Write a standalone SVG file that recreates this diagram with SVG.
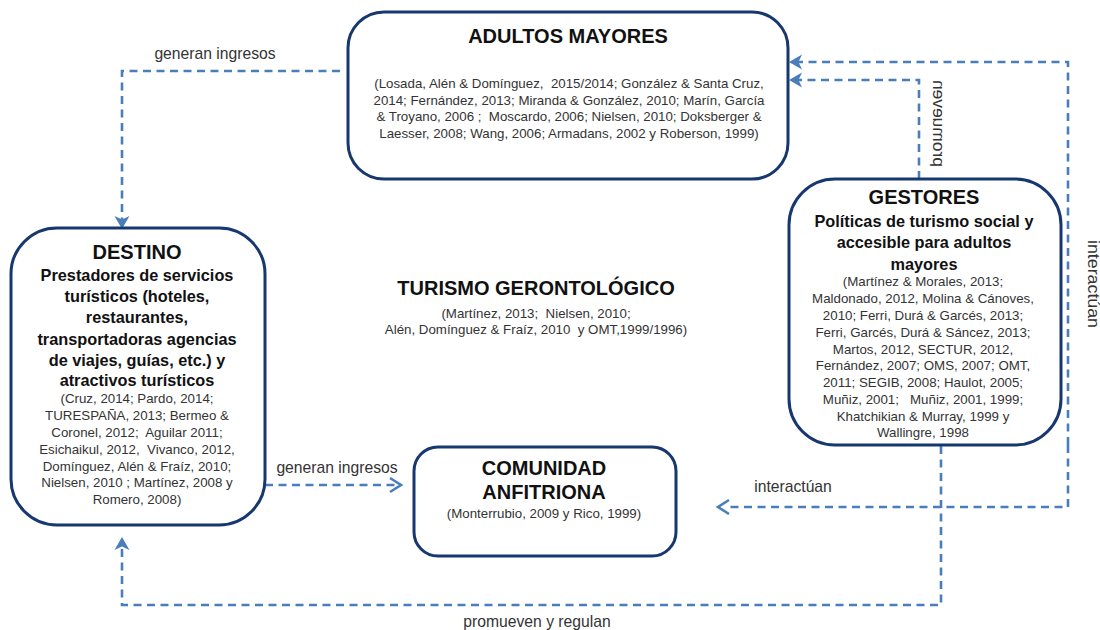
<svg xmlns="http://www.w3.org/2000/svg" width="1100" height="630" viewBox="0 0 1100 630">
<defs>
<path id="stealth" class="fill" d="M0 0L13 -7.5L9.5 0L13 7.5Z"/>
</defs>
<style>
.box{fill:#fff;stroke:#17386f;stroke-width:3}
.con{fill:none;stroke:#4a7ebb;stroke-width:2.6;stroke-dasharray:8 5.5}
.head{fill:none;stroke:#4a7ebb;stroke-width:2.6}
.fill{fill:#4a7ebb}
text{font-family:"Liberation Sans",Arial,sans-serif;text-anchor:middle;fill:#111;white-space:pre}
.t{font-weight:bold;font-size:20px}
.s{font-weight:bold;font-size:16.3px}
.r{font-size:13.3px;fill:#333}
.l{font-size:15.7px;fill:#333}
</style>
<rect width="1100" height="630" fill="#fff"/>
<g id="connectors">
<path class="con" d="M340 71H122V222"/>
<use href="#stealth" transform="translate(122 229) rotate(-90)"/>
<path class="con" d="M265 485H396"/>
<path class="head" d="M390 478l11 7-11 7"/>
<path class="con" d="M919 179V80H798"/>
<path class="con" d="M1068 445V62H798"/>
<use href="#stealth" transform="translate(789 62)"/>
<use href="#stealth" transform="translate(789 80)"/>
<path class="con" d="M1068 445V507H725"/>
<path class="head" d="M729 500l-11 7 11 7"/>
<path class="con" d="M941 446V605H122V548"/>
<use href="#stealth" transform="translate(122 537) rotate(90)"/>
</g>
<g id="adultos">
<rect class="box" x="348" y="12" width="440" height="167" rx="36"/>
<text class="t" x="568" y="43">ADULTOS MAYORES</text>
<text class="r" x="569" y="88">(Losada, Alén &amp; Domínguez,  2015/2014; González &amp; Santa Cruz,</text>
<text class="r" x="569" y="105">2014; Fernández, 2013; Miranda &amp; González, 2010; Marín, García</text>
<text class="r" x="569" y="121">&amp; Troyano, 2006 ;  Moscardo, 2006; Nielsen, 2010; Doksberger &amp;</text>
<text class="r" x="569" y="138">Laesser, 2008; Wang, 2006; Armadans, 2002 y Roberson, 1999)</text>
</g>
<g id="gestores">
<rect class="box" x="789" y="179" width="272" height="266" rx="46"/>
<text class="t" x="924" y="204">GESTORES</text>
<text class="s" x="924" y="227">Políticas de turismo social y</text>
<text class="s" x="924" y="248">accesible para adultos</text>
<text class="s" x="924" y="270">mayores</text>
<text class="r" x="923" y="286">(Martínez &amp; Morales, 2013;</text>
<text class="r" x="923" y="303">Maldonado, 2012, Molina &amp; Cánoves,</text>
<text class="r" x="923" y="320">2010; Ferri, Durá &amp; Garcés, 2013;</text>
<text class="r" x="923" y="337">Ferri, Garcés, Durá &amp; Sáncez, 2013;</text>
<text class="r" x="923" y="354">Martos, 2012, SECTUR, 2012,</text>
<text class="r" x="923" y="370">Fernández, 2007; OMS, 2007; OMT,</text>
<text class="r" x="923" y="387">2011; SEGIB, 2008; Haulot, 2005;</text>
<text class="r" x="923" y="404">Muñiz, 2001;   Muñiz, 2001, 1999;</text>
<text class="r" x="923" y="421">Khatchikian &amp; Murray, 1999 y</text>
<text class="r" x="923" y="437">Wallingre, 1998</text>
</g>
<g id="destino">
<rect class="box" x="11" y="228" width="254" height="297" rx="46"/>
<text class="t" x="137" y="259">DESTINO</text>
<text class="s" x="137" y="281">Prestadores de servicios</text>
<text class="s" x="137" y="302">turísticos (hoteles,</text>
<text class="s" x="137" y="323">restaurantes,</text>
<text class="s" x="137" y="345">transportadoras agencias</text>
<text class="s" x="137" y="366">de viajes, guías, etc.) y</text>
<text class="s" x="137" y="386">atractivos turísticos</text>
<text class="r" x="137" y="403">(Cruz, 2014; Pardo, 2014;</text>
<text class="r" x="137" y="420">TURESPAÑA, 2013; Bermeo &amp;</text>
<text class="r" x="137" y="437">Coronel, 2012;  Aguilar 2011;</text>
<text class="r" x="137" y="454">Esichaikul, 2012,  Vivanco, 2012,</text>
<text class="r" x="137" y="471">Domínguez, Alén &amp; Fraíz, 2010;</text>
<text class="r" x="137" y="487">Nielsen, 2010 ; Martínez, 2008 y</text>
<text class="r" x="137" y="504">Romero, 2008)</text>
</g>
<g id="comunidad">
<rect class="box" x="414" y="447" width="262" height="109" rx="24"/>
<text class="t" x="544" y="475">COMUNIDAD</text>
<text class="t" x="544" y="499">ANFITRIONA</text>
<text class="r" x="544" y="518">(Monterrubio, 2009 y Rico, 1999)</text>
</g>
<g id="turismo">
<text class="t" x="536" y="295">TURISMO GERONTOLÓGICO</text>
<text class="r" x="536" y="318">(Martínez, 2013;  Nielsen, 2010;</text>
<text class="r" x="536" y="334">Alén, Domínguez &amp; Fraíz, 2010  y OMT,1999/1996)</text>
</g>
<g id="labels">
<text class="l" x="215" y="59">generan ingresos</text>
<text class="l" x="337" y="473">generan ingresos</text>
<text class="l" x="793" y="492">interactúan</text>
<text class="l" x="537" y="627">promueven y regulan</text>
<text class="l" transform="matrix(0 -1 -1 0 933 123.500)" textLength="87" lengthAdjust="spacingAndGlyphs">promueven</text>
<text class="l" transform="translate(1088 284) rotate(90)" textLength="88" lengthAdjust="spacingAndGlyphs">interactúan</text>
</g>
</svg>
